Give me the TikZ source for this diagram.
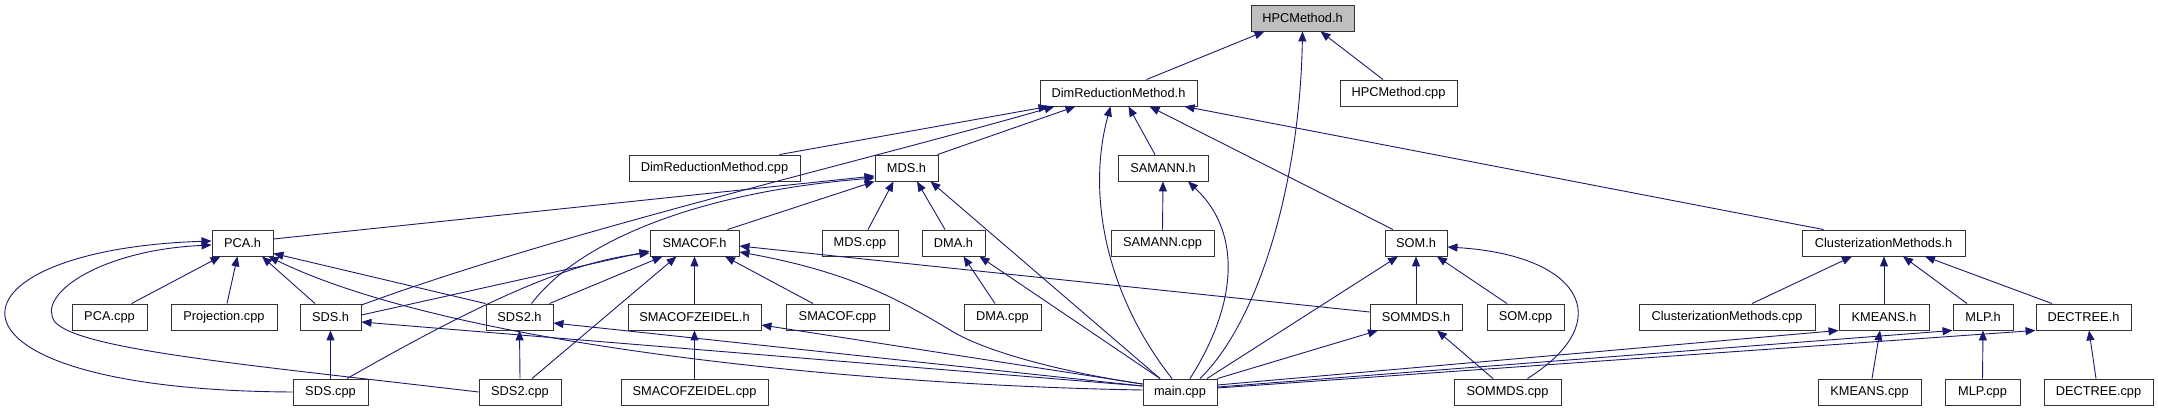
\documentclass[tikz,border=0pt]{standalone}
\usepackage{fontspec}
\setmainfont{Liberation Sans}
\usetikzlibrary{arrows.meta}
\definecolor{mblue}{RGB}{25,25,112}
\definecolor{hpcgray}{RGB}{191,191,191}
\tikzset{
  box/.style={draw=black!80, line width=0.9pt, fill=white, minimum height=26pt, inner sep=0pt, font=\fontsize{12.8}{15}\selectfont},
  dep/.style={draw=mblue, line width=0.9pt, -{Triangle[length=10pt,width=8pt,fill=mblue]}}
}
\begin{document}
\begin{tikzpicture}[x=1pt,y=-1pt]
\fill[white] (0,0) rectangle (2158,411);
\useasboundingbox (0,0) rectangle (2158,411);
% row 1
\node[box, fill=hpcgray, minimum width=103pt] (HPC) at (1302.5,18) {HPCMethod.h};
% row 2
\node[box, minimum width=157pt] (DimRed) at (1118.5,93) {DimReductionMethod.h};
\node[box, minimum width=117pt] (HPCcpp) at (1398.5,93) {HPCMethod.cpp};
% row 3
\node[box, minimum width=171pt] (DimRedcpp) at (714.5,168) {DimReductionMethod.cpp};
\node[box, minimum width=63pt] (MDS) at (906.5,168) {MDS.h};
\node[box, minimum width=90pt] (SAMANN) at (1163,168) {SAMANN.h};
% row 4
\node[box, minimum width=61pt] (PCA) at (242.5,243) {PCA.h};
\node[box, minimum width=89pt] (SMACOF) at (694.5,243) {SMACOF.h};
\node[box, minimum width=76pt] (MDScpp) at (860,243) {MDS.cpp};
\node[box, minimum width=63pt] (DMA) at (953.5,243) {DMA.h};
\node[box, minimum width=103pt] (SAMANNcpp) at (1162.5,243) {SAMANN.cpp};
\node[box, minimum width=62pt] (SOM) at (1416,243) {SOM.h};
\node[box, minimum width=163pt] (Clust) at (1883.5,243) {ClusterizationMethods.h};
% row 5
\node[box, minimum width=75pt] (PCAcpp) at (109.5,317) {PCA.cpp};
\node[box, minimum width=106pt] (Projcpp) at (224,317) {Projection.cpp};
\node[box, minimum width=61pt] (SDS) at (330.5,317) {SDS.h};
\node[box, minimum width=67pt] (SDS2) at (519.5,317) {SDS2.h};
\node[box, minimum width=133pt] (SMZ) at (694.5,317) {SMACOFZEIDEL.h};
\node[box, minimum width=103pt] (SMACOFcpp) at (837.5,317) {SMACOF.cpp};
\node[box, minimum width=77pt] (DMAcpp) at (1002.5,317) {DMA.cpp};
\node[box, minimum width=92pt] (SOMMDS) at (1416,317) {SOMMDS.h};
\node[box, minimum width=77pt] (SOMcpp) at (1525.5,317) {SOM.cpp};
\node[box, minimum width=176pt] (Clustcpp) at (1727,317) {ClusterizationMethods.cpp};
\node[box, minimum width=90pt] (KMEANS) at (1884,317) {KMEANS.h};
\node[box, minimum width=60pt] (MLP) at (1983,317) {MLP.h};
\node[box, minimum width=95pt] (DECTREE) at (2083.5,317) {DECTREE.h};
% row 6
\node[box, minimum width=75pt] (SDScpp) at (330.5,392) {SDS.cpp};
\node[box, minimum width=82pt] (SDS2cpp) at (520,392) {SDS2.cpp};
\node[box, minimum width=147pt] (SMZcpp) at (694.5,392) {SMACOFZEIDEL.cpp};
\node[box, minimum width=74pt] (main) at (1180,392) {main.cpp};
\node[box, minimum width=107pt] (SOMMDScpp) at (1507.5,392) {SOMMDS.cpp};
\node[box, minimum width=103pt] (KMEANScpp) at (1869.5,392) {KMEANS.cpp};
\node[box, minimum width=75pt] (MLPcpp) at (1982.5,392) {MLP.cpp};
\node[box, minimum width=109pt] (DECTREEcpp) at (2098.5,392) {DECTREE.cpp};

% edges into HPCMethod.h
\draw[dep] ([xshift=28pt]DimRed.north) -- ([xshift=-38pt]HPC.south);
\draw[dep] ([xshift=20pt]main.north) .. controls (1260,320) and (1300,180) .. (HPC.south);
\draw[dep] ([xshift=-15.5pt]HPCcpp.north) -- ([xshift=18pt]HPC.south);
% edges into DimReductionMethod.h
\draw[dep] ([xshift=65pt]DimRedcpp.north) -- ([xshift=-70pt]DimRed.south);
\draw[dep] ([yshift=12pt]SDS.east) .. controls (560,232) and (850,165) .. ([xshift=-64pt]DimRed.south);
\draw[dep] ([xshift=31pt]MDS.north) -- ([xshift=-43pt]DimRed.south);
\draw[dep] ([xshift=-8pt]main.north) .. controls (1110,300) and (1085,200) .. ([xshift=-8pt]DimRed.south);
\draw[dep] ([xshift=-8pt]SAMANN.north) -- ([xshift=10pt]DimRed.south);
\draw[dep] ([xshift=-23pt]SOM.north) -- ([xshift=31pt]DimRed.south);
\draw[dep] ([xshift=-60pt]Clust.north) -- ([xshift=66pt]DimRed.south);
% edges into MDS.h
\draw[dep] ([yshift=4pt]PCA.east) -- ([yshift=-8pt]MDS.west);
\draw[dep] ([xshift=12pt]SDS2.north) .. controls (580,240) and (700,192) .. ([yshift=-10pt]MDS.west);
\draw[dep] ([xshift=33pt]SMACOF.north) -- (MDS.south west);
\draw[dep] ([xshift=8pt]MDScpp.north) -- ([xshift=-13pt]MDS.south);
\draw[dep] ([xshift=-8.5pt]DMA.north) -- ([xshift=10.5pt]MDS.south);
\draw[dep] ([xshift=-20pt]main.north) -- ([xshift=24pt]MDS.south);
% DMA.h
\draw[dep] ([xshift=-7.5pt]DMAcpp.north) -- ([xshift=10pt]DMA.south);
\draw[dep] ([xshift=-20pt]main.north) -- ([xshift=26pt]DMA.south);
% SAMANN.h
\draw[dep] (SAMANNcpp.north) -- (SAMANN.south);
\draw[dep] ([xshift=10pt]main.north) .. controls (1240,300) and (1240,230) .. ([xshift=25pt]SAMANN.south);
% SOM.h
\draw[dep] ([xshift=27pt]main.north) -- ([xshift=-18pt]SOM.south);
\draw[dep] (SOMMDS.north) -- (SOM.south);
\draw[dep] ([xshift=-18.5pt]SOMcpp.north) -- ([xshift=21pt]SOM.south);
\draw[dep] ([xshift=20pt]SOMMDScpp.north) .. controls (1620,320) and (1580,255) .. ([yshift=-4pt]SOM.east);
% SOMMDS.h
\draw[dep] (main.north east) -- ([xshift=-38pt]SOMMDS.south);
\draw[dep] ([xshift=-14.5pt]SOMMDScpp.north) -- ([xshift=21pt]SOMMDS.south);
% SMACOF.h
\draw[dep] ([yshift=5pt]SOMMDS.west) -- ([yshift=-3pt]SMACOF.east);
\draw[dep] ([yshift=8pt]main.west) .. controls (1080,375) and (990,355) .. (950,330) .. controls (900,300) and (850,272) .. ([yshift=-9pt]SMACOF.east);
\draw[dep] ([xshift=-24.5pt]SMACOFcpp.north) -- ([xshift=30.5pt]SMACOF.south);
\draw[dep] (SMZ.north) -- (SMACOF.south);
\draw[dep] ([xshift=30pt]SDS2.north) -- ([xshift=-32pt]SMACOF.south);
\draw[dep] ([xshift=12pt]SDS2cpp.north) -- ([xshift=-18pt]SMACOF.south);
\draw[dep] ([yshift=2pt]SDS.east) -- ([yshift=-8pt]SMACOF.west);
\draw[dep] ([xshift=16.5pt]SDScpp.north) .. controls (450,320) and (560,262) .. ([yshift=-10pt]SMACOF.west);
% SMACOFZEIDEL.h
\draw[dep] (SMZcpp.north) -- (SMZ.south);
\draw[dep] ([yshift=8pt]main.west) -- ([yshift=-8pt]SMZ.east);
% SDS.h, SDS2.h
\draw[dep] (SDScpp.north) -- (SDS.south);
\draw[dep] ([yshift=6pt]main.west) -- ([yshift=-5pt]SDS.east);
\draw[dep] (SDS2cpp.north) -- (SDS2.south);
\draw[dep] ([yshift=6pt]main.west) -- ([yshift=-6pt]SDS2.east);
% PCA.h
\draw[dep] ([xshift=-15.5pt]SDS.north) -- ([xshift=19.5pt]PCA.south);
\draw[dep] (SDS2.north west) -- ([yshift=3pt]PCA.south east);
\draw[dep] ([yshift=2pt]main.west) .. controls (850,385) and (450,345) .. ([xshift=-5pt]PCA.south east);
\draw[dep] ([xshift=22pt]PCAcpp.north) -- ([xshift=-22pt]PCA.south);
\draw[dep] ([xshift=3pt]Projcpp.north) -- ([xshift=-5pt]PCA.south);
\draw[dep] (SDScpp.west) .. controls (-85,390) and (-65,250) .. ([yshift=2pt]PCA.west);
\draw[dep] (SDS2cpp.west) .. controls (250,365) and (80,350) .. (55,322) .. controls (35,295) and (100,250) .. ([yshift=-2pt]PCA.west);
% ClusterizationMethods.h
\draw[dep] ([xshift=25pt]Clustcpp.north) -- ([xshift=-31.5pt]Clust.south);
\draw[dep] (KMEANS.north) -- (KMEANS.north |- Clust.south);
\draw[dep] ([xshift=-16pt]MLP.north) -- ([xshift=19.5pt]Clust.south);
\draw[dep] ([xshift=-31.5pt]DECTREE.north) -- ([xshift=41.5pt]Clust.south);
% KMEANS.h, MLP.h, DECTREE.h
\draw[dep] ([xshift=2.5pt]KMEANScpp.north) -- ([xshift=-4pt]KMEANS.south);
\draw[dep] (MLPcpp.north) -- (MLP.south);
\draw[dep] ([xshift=-2.5pt]DECTREEcpp.north) -- ([xshift=5.5pt]DECTREE.south);
\draw[dep] ([yshift=7pt]main.east) -- (KMEANS.south west);
\draw[dep] ([yshift=5pt]main.east) -- (MLP.south west);
\draw[dep] ([yshift=4pt]main.east) -- (DECTREE.south west);
\end{tikzpicture}
\end{document}
